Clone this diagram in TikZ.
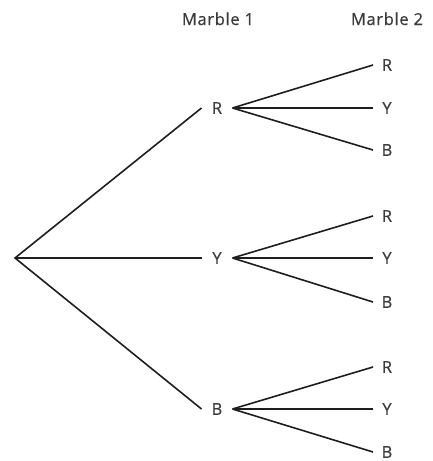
\documentclass[tikz,border=0pt]{standalone}
\usepackage{fontspec}
\setmainfont[FakeBold=0.6]{Open Sans}
\newfontfamily\labelfont[LetterSpace=4,FakeBold=0.6]{Open Sans}
\definecolor{labelgray}{HTML}{3C3C3C}
\definecolor{linegray}{HTML}{1E1E1E}
\begin{document}
\begin{tikzpicture}[x=1pt,y=-1pt,
  lbl/.style={inner sep=0pt, outer xsep=0pt, text=labelgray,
              font=\fontsize{16.5}{19}\selectfont},
  first/.style={lbl, minimum width=31pt},
  second/.style={lbl, minimum width=28pt},
  head/.style={lbl, anchor=base, font=\labelfont\fontsize{16.5}{19}\selectfont},
  branch/.style={draw=linegray, line width=1.6pt}]
  \useasboundingbox (0,0) rectangle (433,461);
  % column headings
  \node[head] (h1) at (218,25) {Marble 1};
  \node[head] (h2) at (387,25) {Marble 2};
  % root of the tree
  \coordinate (root) at (15,258);
  % first draw
  \node[first] (R) at (217,108) {R};
  \node[first] (Y) at (217,258) {Y};
  \node[first] (B) at (217,409) {B};
  % second draw after R
  \node[second] (RR) at (387,65) {R};
  \node[second] (RY) at (387,108) {Y};
  \node[second] (RB) at (387,150) {B};
  % second draw after Y
  \node[second] (YR) at (387,216) {R};
  \node[second] (YY) at (387,258) {Y};
  \node[second] (YB) at (387,302) {B};
  % second draw after B
  \node[second] (BR) at (387,367) {R};
  \node[second] (BY) at (387,409) {Y};
  \node[second] (BB) at (387,452) {B};
  % branches
  \draw[branch] (R.west) -- (root) -- (B.west);
  \draw[branch] (root) -- (Y.west);
  \foreach \a in {R,Y,B}{
    \draw[branch] (\a.east) -- (\a R.west);
    \draw[branch] (\a.east) -- (\a Y.west);
    \draw[branch] (\a.east) -- (\a B.west);
  }
\end{tikzpicture}
\end{document}
